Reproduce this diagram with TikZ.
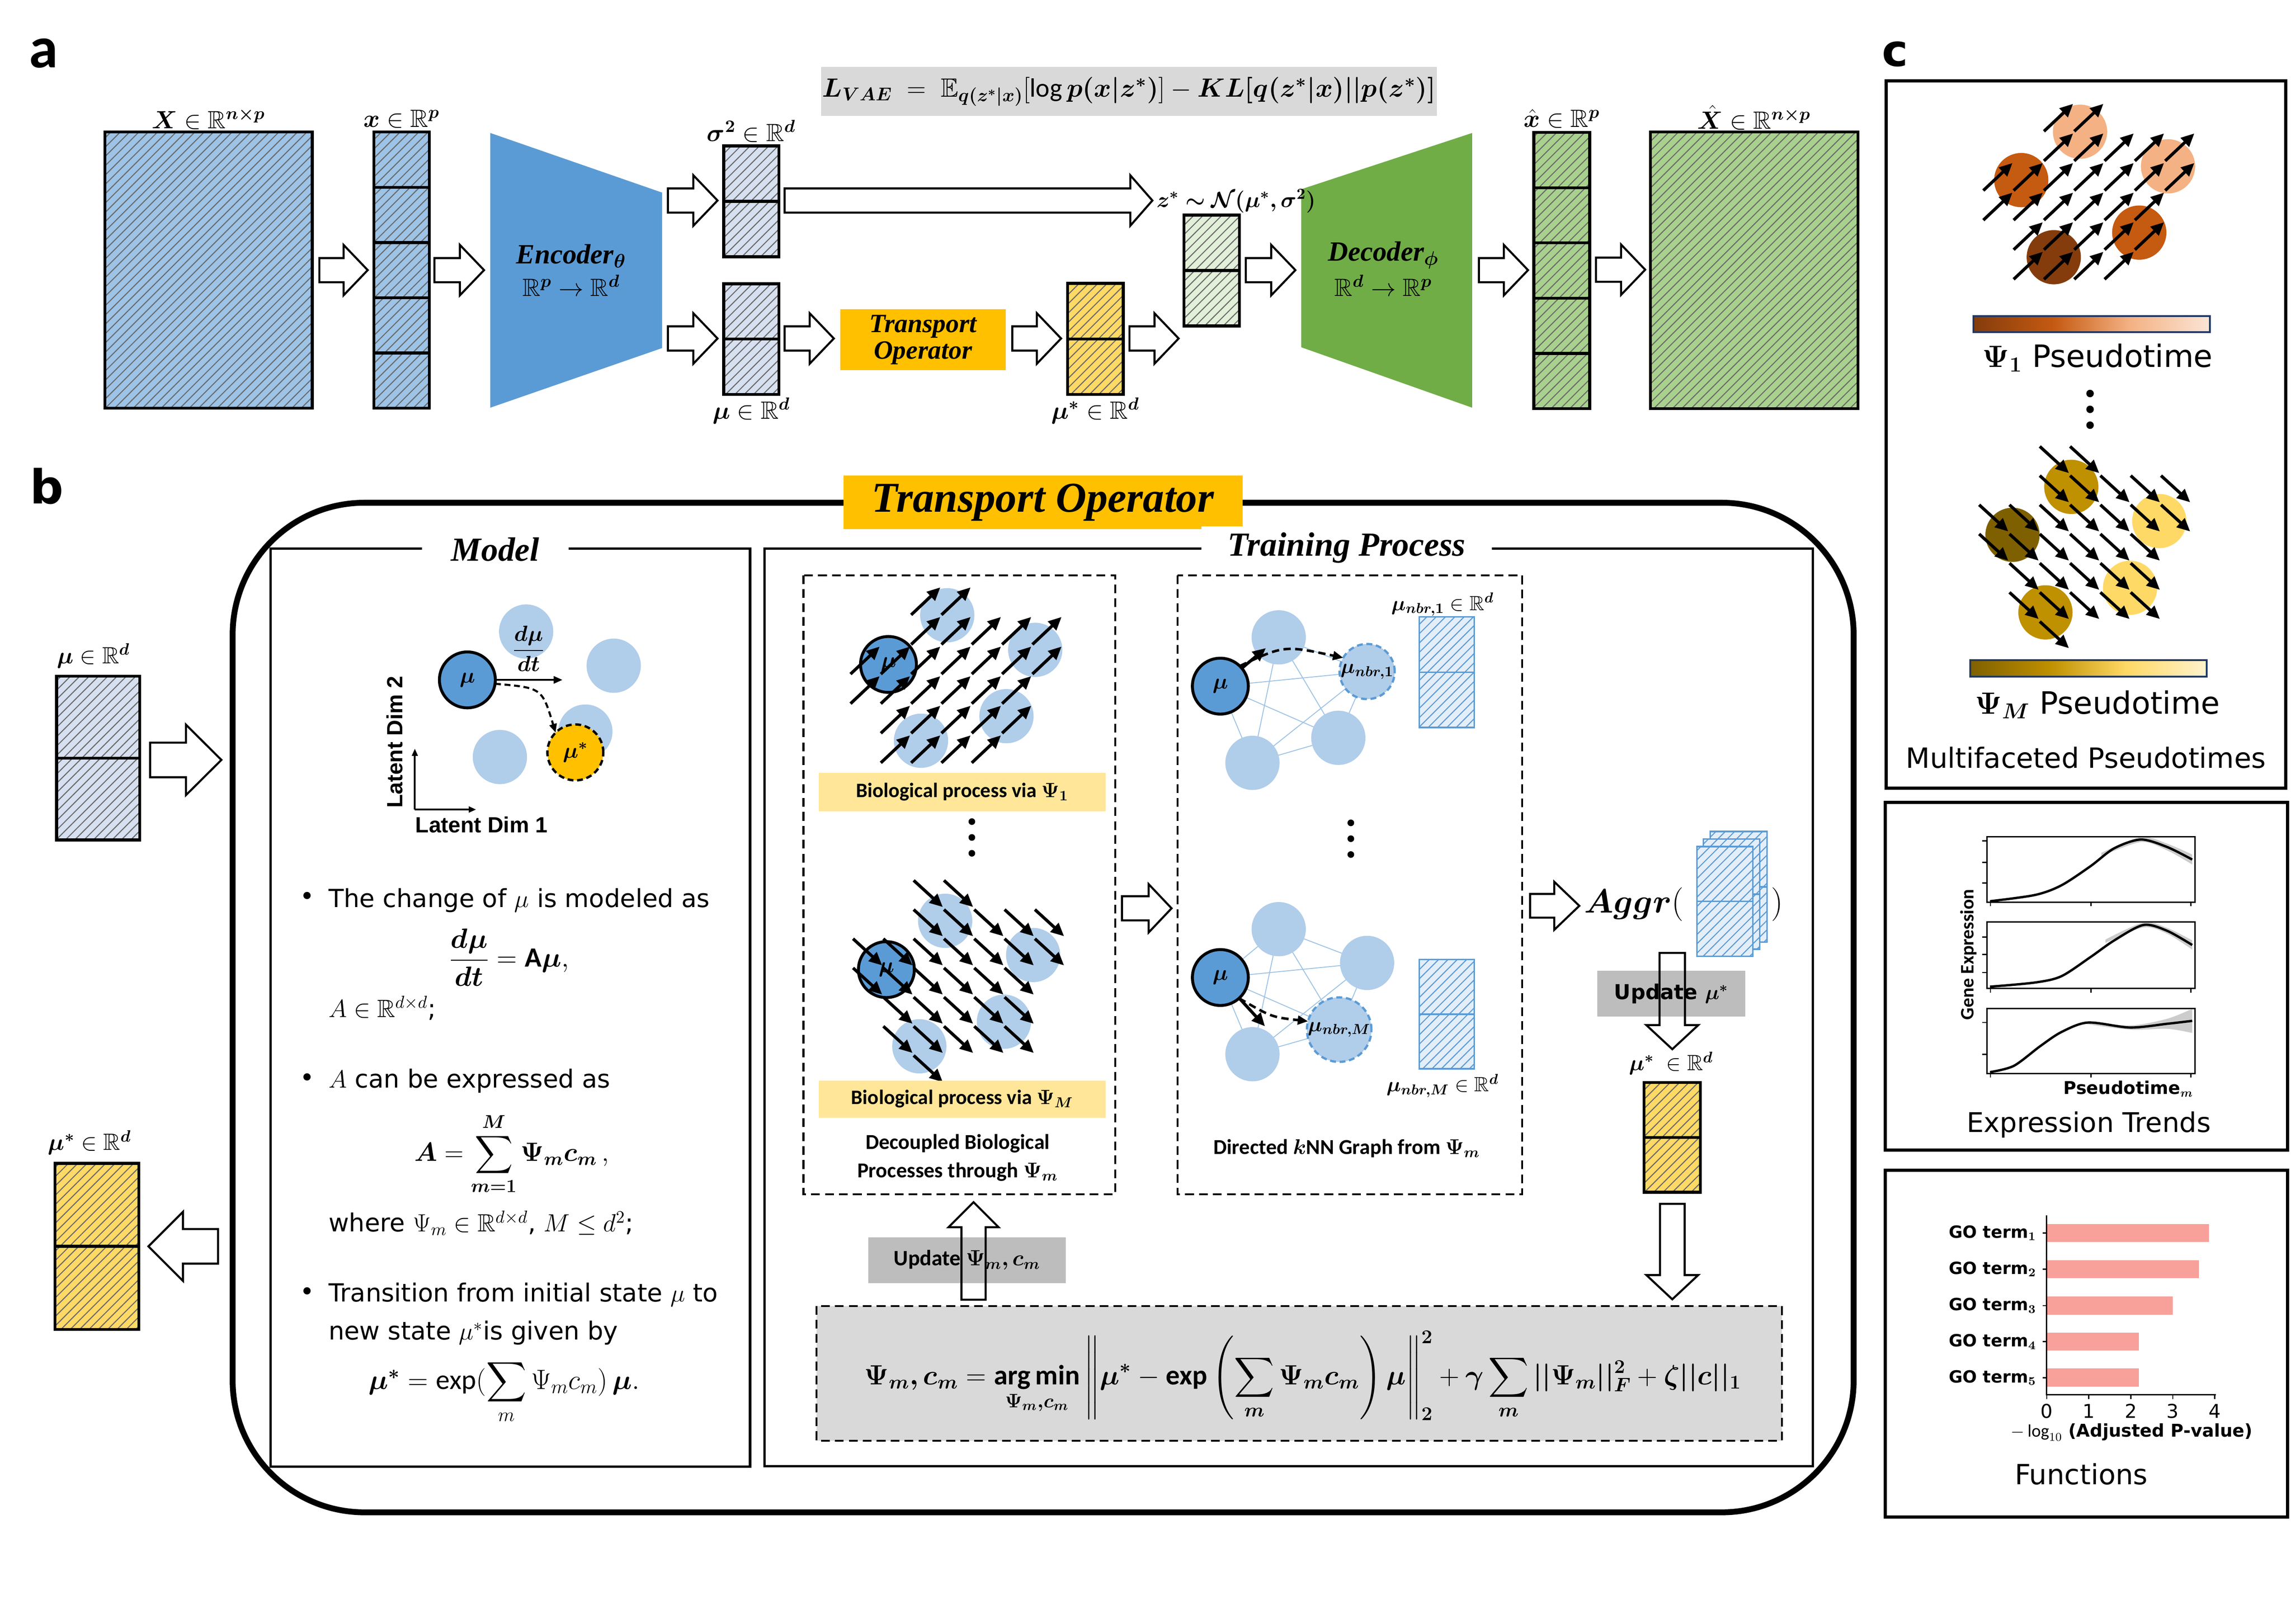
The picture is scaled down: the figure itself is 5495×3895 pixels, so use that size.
\documentclass[tikz,border=0pt]{standalone}
\usepackage{fix-cm}
\usepackage{amsmath,amssymb,bm}
\usepackage{fontspec}
\setmainfont{Carlito}
\newfontfamily\dvs{DejaVu Sans}
\newfontfamily\lsans{Liberation Sans}
\newfontfamily\lserif{Liberation Serif}
\usetikzlibrary{patterns.meta,arrows.meta,calc}
\newcommand\fsz[1]{\fontsize{#1}{#1}\selectfont}

\definecolor{matblue}{HTML}{9DC3E6}
\definecolor{vecblue}{HTML}{D6E0F0}
\definecolor{encblue}{HTML}{5B9BD5}
\definecolor{decgreen}{HTML}{70AD47}
\definecolor{matgreen}{HTML}{A9D18E}
\definecolor{zgreen}{HTML}{E2F0D9}
\definecolor{toyellow}{HTML}{FFC000}
\definecolor{muyellow}{HTML}{FFD966}
\definecolor{lblyellow}{HTML}{FFE699}
\definecolor{lgray}{HTML}{D9D9D9}
\definecolor{mgray}{HTML}{BDBDBD}
\definecolor{cellblue}{HTML}{B0CDEA}
\definecolor{edgeblue}{HTML}{9DC3E6}
\definecolor{nbrfill}{HTML}{E4EEF8}
\definecolor{peach}{HTML}{F4B183}
\definecolor{orng}{HTML}{C55A11}
\definecolor{brwn}{HTML}{843C0C}
\definecolor{lpeach}{HTML}{FBE5D6}
\definecolor{gold}{HTML}{BF9000}
\definecolor{dgold}{HTML}{7F6000}
\definecolor{lgold}{HTML}{FFD966}
\definecolor{cream}{HTML}{FFF2CC}
\definecolor{barred}{HTML}{F8A19A}
\definecolor{navy}{HTML}{203864}
\definecolor{hatchgray}{HTML}{6A6A6A}

\pgfdeclarehorizontalshading{psione}{100bp}{color(0bp)=(brwn); color(25bp)=(brwn); color(42bp)=(orng); color(58bp)=(peach); color(75bp)=(lpeach); color(100bp)=(lpeach)}
\pgfdeclarehorizontalshading{psim}{100bp}{color(0bp)=(dgold); color(25bp)=(dgold); color(42bp)=(gold); color(58bp)=(lgold); color(75bp)=(cream); color(100bp)=(cream)}

\tikzset{
  nd/.style={inner sep=0pt, outer sep=0pt},
  hatch/.style 2 args={preaction={fill=#1}, pattern={Lines[angle=45,distance=4.5pt,line width=0.7pt]}, pattern color=#2},
  matbox/.style={nd, draw=black, line width=2pt},
  nbrvec/.style={nd, draw=encblue, line width=1.1pt, hatch={nbrfill}{encblue}},
  blockarrow/.style={draw=black, fill=white, line width=1.4pt},
  blockarrowo/.style={draw=black, line width=1.4pt},
  pics/barrow/.style n args={4}{code={\path[blockarrow] (0,{-(#3)/2}) -- ({#1-#4},{-(#3)/2}) -- ({#1-#4},{-(#2)/2}) -- (#1,0) -- ({#1-#4},{(#2)/2}) -- ({#1-#4},{(#3)/2}) -- (0,{(#3)/2}) -- cycle;}},
  pics/barrowo/.style n args={4}{code={\path[blockarrowo] (0,{-(#3)/2}) -- ({#1-#4},{-(#3)/2}) -- ({#1-#4},{-(#2)/2}) -- (#1,0) -- ({#1-#4},{(#2)/2}) -- ({#1-#4},{(#3)/2}) -- (0,{(#3)/2}) -- cycle;}},
  fieldarrow/.style={line width=2.1pt, -{Triangle[length=9pt,width=8pt]}},
  dasharrow/.style={line width=1.7pt, dash pattern=on 5pt off 3pt, -{Triangle[length=7pt,width=6pt]}},
  cellc/.style={nd, circle, minimum size=1.30cm},
  mucirc/.style={nd, circle, minimum size=1.34cm, fill=encblue, draw=black, line width=2pt, font=\fsz{15}},
  gedge/.style={draw=edgeblue, line width=0.6pt},
  tk/.style={line width=0.8pt},
  bigbox/.style={draw=black, line width=1.6pt},
  dbox/.style={draw=black, line width=1.3pt, dash pattern=on 6pt off 3.5pt},
}

\newcommand\upfield[2]{%
  \foreach \r/\cs in {0/{1,2,3,4},1/{1,2,3,4,5},2/{0,1,2,3,4,5},3/{0,1,2,3,4,5,6},4/{2,3,4,5,6},5/{2,3}}{%
    \foreach \c in \cs {\draw[fieldarrow] ({#1+72.7*\c},{#2-71*\r}) -- ++(70,-66);}}}
\newcommand\downfield[2]{%
  \foreach \r/\cs in {0/{2,3},1/{2,3,4,5,6},2/{0,1,2,3,4,5,6},3/{0,1,2,3,4,5},4/{1,2,3,4,5},5/{1,2,3,4,5},6/{2}}{%
    \foreach \c in \cs {\draw[fieldarrow] ({#1+72.7*\c},{#2+70*\r}) -- ++(70,64);}}}

\begin{document}
\begin{tikzpicture}[x=0.01cm,y=-0.01cm]
\useasboundingbox (0,0) rectangle (5495,3895);
\fill[white] (0,0) rectangle (5495,3895);

% ================= panel a =================
\node[nd, font=\bfseries\fsz{40}] (la) at (105,128) {a};

\node[matbox, hatch={matblue}{hatchgray}, minimum width=4.97cm, minimum height=6.62cm] (X) at (500.5,648) {};
\node[nd, font=\fsz{17}] (Xl) at (500,285) {$\bm{X}\in\mathbb{R}^{\bm{n\times p}}$};

\node[matbox, hatch={matblue}{hatchgray}, minimum width=1.33cm, minimum height=6.62cm] (xv) at (963.5,648) {};
\foreach \k in {1,...,4} \draw[line width=2pt] ($(xv.north west)!\k/5!(xv.south west)$) -- ($(xv.north east)!\k/5!(xv.south east)$);
\node[nd, font=\fsz{17}] (xvl) at (963,285) {$\bm{x}\in\mathbb{R}^{\bm{p}}$};

\pic at (766,648) {barrow={116}{121}{58}{58}};
\pic at (1042,648) {barrow={119}{121}{58}{58}};

\fill[encblue] (1176,319) -- (1588,462) -- (1588,835) -- (1176,978) -- cycle;
\node[nd, font=\lserif\bfseries\itshape\fsz{19}] (enc) at (1370,614) {Encoder$_{\bm\theta}$};
\node[nd, font=\fsz{17}] (encm) at (1370,685) {$\mathbb{R}^{\bm p}\rightarrow\mathbb{R}^{\bm d}$};

\pic at (1602,481) {barrow={119}{121}{58}{58}};
\pic at (1602,812) {barrow={119}{121}{58}{58}};

\node[matbox, hatch={vecblue}{hatchgray}, minimum width=1.32cm, minimum height=2.66cm] (sig) at (1802,483) {};
\draw[line width=2pt] (sig.west) -- (sig.east);
\node[nd, font=\fsz{17}] (sigl) at (1802,315) {$\bm{\sigma^2}\in\mathbb{R}^{\bm d}$};
\node[matbox, hatch={vecblue}{hatchgray}, minimum width=1.32cm, minimum height=2.65cm] (mu) at (1802,813.5) {};
\draw[line width=2pt] (mu.west) -- (mu.east);
\node[nd, font=\fsz{17}] (mul) at (1802,985) {$\bm{\mu}\in\mathbb{R}^{\bm d}$};

\pic at (1882,481) {barrow={882}{121}{58}{53}};

\node[nd, fill=lgray, minimum width=14.76cm, minimum height=1.17cm, font=\fsz{18}] (lvae) at (2708,219.5)
  {$\bm{L_{VAE}} \;=\; \mathbb{E}_{\bm{q(z^*|x)}}[\log \bm{p(x|z^*)}] - \bm{KL[q(z^*|x)||p(z^*)]}$};

\pic at (1882,812) {barrow={118}{121}{58}{58}};
\node[nd, fill=toyellow, minimum width=3.96cm, minimum height=1.46cm, align=center, font=\lserif\bfseries\itshape\fsz{18}] (to) at (2214,815) {Transport\\Operator};
\pic at (2428,812) {barrow={117}{121}{58}{58}};

\node[matbox, hatch={muyellow}{hatchgray}, minimum width=1.33cm, minimum height=2.66cm] (mus) at (2627.5,813) {};
\draw[line width=2pt] (mus.west) -- (mus.east);
\node[nd, font=\fsz{17}] (musl) at (2627,985) {$\bm{\mu^*}\in\mathbb{R}^{\bm d}$};
\pic at (2709,812) {barrow={118}{121}{58}{58}};

\node[matbox, hatch={zgreen}{hatchgray}, minimum width=1.33cm, minimum height=2.66cm] (zs) at (2906.5,649) {};
\draw[line width=2pt] (zs.west) -- (zs.east);
\pic at (2988,648) {barrow={119}{121}{58}{58}};

\fill[decgreen] (3121,454) -- (3531,319) -- (3531,978) -- (3121,833) -- cycle;
\node[nd, font=\lserif\bfseries\itshape\fsz{19}] (dec) at (3318,612) {Decoder$_{\bm\phi}$};
\node[nd, font=\fsz{17}] (decm) at (3318,685) {$\mathbb{R}^{\bm d}\rightarrow\mathbb{R}^{\bm p}$};
\node[nd, anchor=west, font=\fsz{15}] (zsl) at (2774,482) {$\bm{z^*\sim\mathcal{N}(\mu^*,\sigma^2)}$};

\pic at (3547,648) {barrow={118}{121}{58}{58}};
\node[matbox, hatch={matgreen}{hatchgray}, minimum width=1.34cm, minimum height=6.62cm] (xh) at (3746,649) {};
\foreach \k in {1,...,4} \draw[line width=2pt] ($(xh.north west)!\k/5!(xh.south west)$) -- ($(xh.north east)!\k/5!(xh.south east)$);
\node[nd, font=\fsz{17}] (xhl) at (3746,285) {$\hat{\bm{x}}\in\mathbb{R}^{\bm p}$};
\pic at (3828,647) {barrow={118}{121}{58}{58}};
\node[matbox, hatch={matgreen}{hatchgray}, minimum width=4.97cm, minimum height=6.63cm] (Xh) at (4207.5,648.5) {};
\node[nd, font=\fsz{17}] (Xhl) at (4207,282) {$\hat{\bm{X}}\in\mathbb{R}^{\bm{n\times p}}$};

% ================= panel b =================
\node[nd, font=\dvs\bfseries\fsz{32}] (lb) at (112,1166) {b};

\node[matbox, hatch={vecblue}{hatchgray}, minimum width=1.99cm, minimum height=3.93cm] (bmu) at (235.5,1818.5) {};
\draw[line width=2pt] (bmu.west) -- (bmu.east);
\node[nd, font=\fsz{16}] (bmul) at (224,1573) {$\bm{\mu}\in\mathbb{R}^{\bm d}$};
\pic at (360,1823) {barrow={171}{169}{83}{85}};

\node[matbox, hatch={muyellow}{hatchgray}, minimum width=2.01cm, minimum height=3.98cm] (bmus) at (232.5,2990) {};
\draw[line width=2pt] (bmus.west) -- (bmus.east);
\node[nd, font=\fsz{16}] (bmusl) at (215,2741) {$\bm{\mu^*}\in\mathbb{R}^{\bm d}$};
\pic[rotate=180] at (523,2990) {barrow={167}{166}{83}{83}};

\draw[line width=4pt, rounded corners=90] (558,1206) rectangle (4446,3628);
\node[nd, fill=toyellow, minimum width=9.57cm, minimum height=1.28cm, font=\lserif\bfseries\itshape\fsz{29}] (tot) at (2501.5,1205) {Transport Operator};

% Model box
\draw[bigbox] (649,1316) rectangle (1799,3518);
\node[nd, fill=white, inner xsep=20pt, inner ysep=4pt, font=\lserif\bfseries\itshape\fsz{23}] (mt) at (1188,1318) {Model};

\node[cellc, fill=cellblue] (mc1) at (1262,1515) {};
\node[cellc, fill=cellblue] (mc2) at (1472,1597) {};
\node[cellc, fill=cellblue] (mc3) at (1404,1755) {};
\node[cellc, fill=cellblue] (mc4) at (1199,1816) {};
\node[nd, font=\fsz{15}] (dmdt) at (1268,1556) {$\dfrac{\bm{d\mu}}{\bm{dt}}$};
\node[nd, circle, minimum size=1.34cm, fill=toyellow, draw=black, line width=1.6pt, dash pattern=on 4pt off 2.5pt, font=\fsz{15}] (mst) at (1380,1805) {$\bm{\mu^*}$};
\node[mucirc] (mmu) at (1121,1631) {$\bm\mu$};
\coordinate (dmtend) at (1349,1631);
\draw[line width=1.2pt, -{Triangle[length=6pt,width=5pt]}] (mmu.east) -- (dmtend);
\draw[line width=1.4pt, dash pattern=on 4pt off 2.5pt, -{Triangle[length=6pt,width=5pt]}] (mmu.-8) .. controls (1300,1650) .. (mst.135);
\coordinate (ax0) at (995,1942);
\coordinate (axy) at (995,1796);
\coordinate (axx) at (1142,1942);
\draw[line width=1.2pt, -{Triangle[length=5pt,width=4pt]}] (ax0) -- (axy);
\draw[line width=1.2pt, -{Triangle[length=5pt,width=4pt]}] (ax0) -- (axx);
\node[nd, rotate=90, font=\lsans\bfseries\fsz{15}] (ld2) at (947,1780) {Latent Dim 2};
\node[nd, font=\lsans\bfseries\fsz{15}] (ld1) at (1155,1979) {Latent Dim 1};

\node[nd, font=\dvs\fsz{17}] (bu1) at (737,2156) {•};
\node[nd, anchor=west, font=\dvs\fsz{17}] (t1) at (788,2160) {The change of $\mu$ is modeled as};
\node[nd, font=\fsz{19}] (eq1) at (1221,2297) {$\dfrac{\bm{d\mu}}{\bm{dt}}=\mathbf{A}\bm{\mu},$};
\node[nd, anchor=west, font=\dvs\fsz{17}] (t1b) at (788,2418) {$A\in\mathbb{R}^{d\times d}$;};
\node[nd, font=\dvs\fsz{17}] (bu2) at (737,2591) {•};
\node[nd, anchor=west, font=\dvs\fsz{17}] (t2) at (788,2593) {$A$ can be expressed as};
\node[nd, font=\fsz{18}] (eq2) at (1227,2768) {$\bm{A} = \displaystyle\sum_{\bm{m=1}}^{\bm{M}}\bm{\Psi_m c_m}\,,$};
\node[nd, anchor=west, font=\dvs\fsz{17}] (t2b) at (788,2934) {where $\Psi_m\in\mathbb{R}^{d\times d}$, $M\le d^2$;};
\node[nd, font=\dvs\fsz{17}] (bu3) at (737,3104) {•};
\node[nd, anchor=west, font=\dvs\fsz{17}] (t3) at (788,3106) {Transition from initial state $\mu$ to};
\node[nd, anchor=west, font=\dvs\fsz{17}] (t3b) at (788,3198) {new state $\mu^*$is given by};
\node[nd, font=\fsz{19}] (eq3) at (1209,3339) {$\bm{\mu^*} = \exp(\displaystyle\sum_{m}\Psi_m c_m)\,\bm{\mu}.$};

% Training box
\draw[bigbox] (1834,1316) rectangle (4348,3517);
\node[nd, fill=white, inner xsep=18pt, inner ysep=4pt, font=\lserif\bfseries\itshape\fsz{23}] (tt) at (3230,1314) {Training Process};

\draw[dbox] (1927,1380) rectangle (2675,2865);
\draw[dbox] (2824,1380) rectangle (3651,2865);

% field 1
\node[cellc, fill=cellblue] (f1a) at (2272,1476) {};
\node[cellc, fill=cellblue] (f1b) at (2483,1559) {};
\node[cellc, fill=cellblue] (f1c) at (2414,1718) {};
\node[cellc, fill=cellblue] (f1d) at (2209,1777) {};
\node[mucirc] (f1m) at (2131,1594) {$\bm\mu$};
\upfield{2040}{1830}
\node[nd, fill=lblyellow, minimum width=6.88cm, minimum height=0.92cm, font=\bfseries\fsz{14}] (bp1) at (2308,1900) {Biological process via $\bm{\Psi_1}$};
\foreach \yy in {1971,2009,2047} \fill (2331,\yy) circle (8);

% field M
\node[cellc, fill=cellblue] (fMa) at (2267,2209) {};
\node[cellc, fill=cellblue] (fMb) at (2478,2291) {};
\node[cellc, fill=cellblue] (fMc) at (2408,2451) {};
\node[cellc, fill=cellblue] (fMd) at (2205,2510) {};
\node[mucirc] (fMm) at (2126,2326) {$\bm\mu$};
\downfield{2046}{2112}
\node[nd, fill=lblyellow, minimum width=6.88cm, minimum height=0.89cm, font=\bfseries\fsz{14}] (bpM) at (2308,2636.5) {Biological process via $\bm{\Psi_M}$};
\node[nd, font=\bfseries\fsz{14.5}] (dec1) at (2297,2743) {Decoupled Biological};
\node[nd, font=\bfseries\fsz{14.5}] (dec2) at (2297,2811) {Processes through $\bm{\Psi_m}$};

\pic at (2691,2179) {barrow={119}{116}{58}{55}};

% graph 1
\foreach \n/\x/\y in {a/3067/1529, b/3279/1611, c/3210/1770, d/3004/1830, m/2927/1646} \coordinate (g1\n) at (\x,\y);
\foreach \p/\q in {m/a,m/b,m/c,m/d,a/b,a/c,a/d,b/c,b/d,c/d} \draw[gedge] (g1\p) -- (g1\q);
\node[cellc, fill=cellblue] (n1a) at (g1a) {};
\node[cellc, fill=cellblue] (n1c) at (g1c) {};
\node[cellc, fill=cellblue] (n1d) at (g1d) {};
\node[cellc, fill=cellblue, draw=encblue, line width=1.5pt, dash pattern=on 4pt off 2.5pt, font=\fsz{14}] (n1b) at (g1b) {$\bm{\mu_{nbr,1}}$};
\node[mucirc] (n1m) at (g1m) {$\bm\mu$};
\draw[fieldarrow] (n1m) -- ($(g1m)!0.78!(g1a)$);
\draw[dasharrow] (n1m.46) .. controls (3080,1548) .. (n1b.150);
\node[nbrvec, minimum width=1.32cm, minimum height=2.65cm] (v1) at (3470,1612.5) {};
\draw[encblue, line width=1.1pt] (v1.west) -- (v1.east);
\node[nd, font=\fsz{14}] (v1l) at (3460,1450) {$\bm{\mu_{nbr,1}}\in\mathbb{R}^{\bm d}$};

\foreach \yy in {1974,2012,2050} \fill (3240,\yy) circle (8);

% graph M
\foreach \n/\x/\y in {a/3067/2229, b/3279/2310, c/3212/2470, d/3004/2529, m/2927/2345} \coordinate (gM\n) at (\x,\y);
\foreach \p/\q in {m/a,m/b,m/c,m/d,a/b,a/c,a/d,b/c,b/d,c/d} \draw[gedge] (gM\p) -- (gM\q);
\node[cellc, fill=cellblue] (nMa) at (gMa) {};
\node[cellc, fill=cellblue] (nMb) at (gMb) {};
\node[cellc, fill=cellblue] (nMd) at (gMd) {};
\node[cellc, fill=cellblue, draw=encblue, line width=1.5pt, dash pattern=on 4pt off 2.5pt, font=\fsz{14}] (nMc) at (gMc) {$\bm{\mu_{nbr,M}}$};
\node[mucirc] (nMm) at (gMm) {$\bm\mu$};
\coordinate (gMt) at (3034,2462);
\draw[fieldarrow] (nMm) -- (gMt);
\draw[dasharrow] (nMm.-48) .. controls (3050,2440) .. (nMc.165);
\node[nbrvec, minimum width=1.32cm, minimum height=2.62cm] (vM) at (3470,2433) {};
\draw[encblue, line width=1.1pt] (vM.west) -- (vM.east);
\node[nd, font=\fsz{14}] (vMl) at (3460,2605) {$\bm{\mu_{nbr,M}}\in\mathbb{R}^{\bm d}$};
\node[nd, font=\bfseries\fsz{14.5}] (knn) at (3230,2755) {Directed $\bm{k}$NN Graph from $\bm{\Psi_m}$};

% aggregation
\pic at (3670,2173) {barrow={118}{115}{57}{60}};
\node[nd, anchor=west, font=\fsz{23}] (aggr) at (3800,2170) {$\bm{Aggr}($};
\node[nbrvec, minimum width=1.36cm, minimum height=2.65cm] (s3) at (4170,2127.5) {};
\draw[encblue, line width=1.1pt] (s3.west) -- (s3.east);
\node[nbrvec, minimum width=1.35cm, minimum height=2.64cm] (s2) at (4153,2145) {};
\draw[encblue, line width=1.1pt] (s2.west) -- (s2.east);
\node[nbrvec, minimum width=1.34cm, minimum height=2.63cm] (s1) at (4137,2162.5) {};
\draw[encblue, line width=1.1pt] (s1.west) -- (s1.east);
\node[nd, font=\fsz{23}] (aggrc) at (4262,2170) {$)$};

\node[nd, fill=mgray, minimum width=3.55cm, minimum height=1.10cm, font=\dvs\bfseries\fsz{14}] (upm) at (4008.5,2384) {Update $\bm{\mu^*}$};
\pic[rotate=-90] at (4011,2286) {barrowo={231}{125}{61}{58}};
\node[nd, font=\fsz{15}] (tmsl) at (4008,2551) {$\bm{\mu^*}\;\in\mathbb{R}^{\bm d}$};
\node[matbox, hatch={muyellow}{hatchgray}, minimum width=1.35cm, minimum height=2.63cm] (tms) at (4010.5,2728.5) {};
\draw[line width=2pt] (tms.west) -- (tms.east);
\pic[rotate=-90] at (4011,2888) {barrow={229}{124}{59}{58}};

\node[nd, fill=lgray, minimum width=23.14cm, minimum height=3.23cm] (form) at (3116,3294.5) {};
\draw[dbox] (form.north west) rectangle (form.south east);
\node[nd, font=\fsz{19}] (formt) at (3125,3300) {$\displaystyle \bm{\Psi_m, c_m} = \operatorname*{\mathbf{arg\,min}}_{\bm{\Psi_m,c_m}} \left\| \bm{\mu^*} - \mathbf{exp}\left(\sum_{\bm m}\bm{\Psi_m c_m}\right)\bm{\mu} \right\|_{\bm 2}^{\bm 2} + \bm{\gamma}\sum_{\bm m}\bm{||\Psi_m||_F^2} + \bm{\zeta ||c||_1}$};

\node[nd, fill=mgray, minimum width=4.73cm, minimum height=1.10cm, font=\bfseries\fsz{15}] (upp) at (2319.5,3023) {Update $\bm{\Psi_m, c_m}$};
\pic[rotate=90] at (2335,3118) {barrowo={234}{120}{58}{60}};

% ================= panel c =================
\node[nd, font=\dvs\bfseries\fsz{30}] (lc) at (4545,130) {c};
\draw[line width=2.2pt] (4524,194) rectangle (5482,1891);

\node[cellc, fill=peach] (c1a) at (4989,316) {};
\node[cellc, fill=orng] (c1b) at (4848,432) {};
\node[cellc, fill=peach] (c1c) at (5200,399) {};
\node[cellc, fill=orng] (c1d) at (5131,558) {};
\node[cellc, fill=brwn] (c1e) at (4926,617) {};
\upfield{4757}{670}
\shade[shading=psione] (4733,758) rectangle (5300,797);
\draw[navy, line width=1.2pt] (4733,758) rectangle (5300,797);
\node[nd, font=\dvs\fsz{21}] (p1l) at (5031,858) {$\bm{\Psi_1}$ Pseudotime};
\foreach \yy in {944,982,1020} \fill (5013,\yy) circle (9);

\node[cellc, fill=gold] (cMa) at (4968,1168) {};
\node[cellc, fill=dgold] (cMb) at (4827,1283) {};
\node[cellc, fill=lgold] (cMc) at (5179,1250) {};
\node[cellc, fill=lgold] (cMd) at (5109,1410) {};
\node[cellc, fill=gold] (cMe) at (4906,1469) {};
\downfield{4747}{1071}
\shade[shading=psim] (4726,1584) rectangle (5293,1623);
\draw[navy, line width=1.2pt] (4726,1584) rectangle (5293,1623);
\node[nd, font=\dvs\fsz{21}] (pMl) at (5031,1690) {$\bm{\Psi_M}$ Pseudotime};
\node[nd, font=\dvs\fsz{19}] (mfp) at (5003,1818) {Multifaceted Pseudotimes};

% expression trends
\draw[line width=2.2pt] (4522,1925) rectangle (5487,2759);
\fill[gray!40] plot[smooth] coordinates {(5040,2046) (5135,2008) (5198,2024) (5258,2050)} -- plot[smooth] coordinates {(5258,2074) (5198,2040) (5135,2020) (5040,2054)} -- cycle;
\fill[gray!40] plot[smooth] coordinates {(5050,2254) (5141,2213) (5198,2226) (5258,2256)} -- plot[smooth] coordinates {(5258,2278) (5198,2240) (5141,2225) (5050,2262)} -- cycle;
\fill[gray!40] plot[smooth] coordinates {(5000,2450) (5109,2460) (5198,2444) (5258,2420)} -- plot[smooth] coordinates {(5258,2478) (5198,2468) (5109,2470) (5000,2456)} -- cycle;
\foreach \ya/\yb in {2007/2164, 2212/2371, 2419/2575} {
  \draw[line width=0.9pt] (4766,\ya) rectangle (5265,\yb);
  \foreach \xx in {4774,5015,5255} \draw[tk] (\xx,\yb) -- ++(0,10);
}
\foreach \yy in {2017,2069,2118,2248,2290,2333,2453,2529} \draw[tk] (4766,\yy) -- ++(-12,0);
\draw[line width=1.6pt] plot[smooth] coordinates {(4773,2162) (4881,2147) (4944,2124) (5014,2078) (5071,2035) (5135,2014) (5198,2032) (5258,2062)};
\draw[line width=1.6pt] plot[smooth] coordinates {(4773,2367) (4881,2357) (4944,2342) (5014,2296) (5071,2256) (5141,2219) (5198,2233) (5258,2267)};
\draw[line width=1.6pt] plot[smooth] coordinates {(4773,2572) (4830,2557) (4893,2510) (4944,2476) (5008,2453) (5109,2465) (5198,2456) (5258,2449)};
\node[nd, rotate=90, font=\bfseries\fsz{13}] (gexp) at (4722,2290) {Gene Expression};
\node[nd, font=\dvs\bfseries\fsz{12}] (pst) at (5105,2612) {Pseudotime$_{\bm m}$};
\node[nd, font=\dvs\fsz{18.5}] (ext) at (5010,2698) {Expression Trends};

% functions
\draw[line width=2.2pt] (4522,2807) rectangle (5487,3639);
\foreach \v/\ya/\yb/\k in {3.86/2937/2979/1, 3.62/3023/3066/2, 3.0/3110/3154/3, 2.19/3197/3240/4, 2.19/3283/3327/5} {
  \fill[barred] (4909,\ya) rectangle ({4909+100.8*\v},\yb);
  \draw[tk] (4909,{(\ya+\yb)/2}) -- ++(-10,0);
  \node[nd, anchor=east, font=\dvs\bfseries\fsz{11.5}] (go\k) at (4884,{(\ya+\yb)/2}) {GO term$_{\bm{\k}}$};
}
\draw[line width=0.9pt] (4909,2916) -- (4909,3346) -- (5315,3346);
\foreach \v in {0,...,4} {
  \draw[tk] ({4909+100.8*\v},3346) -- ++(0,10);
  \node[nd, font=\dvs\fsz{13}] (xt\v) at ({4909+100.8*\v},3385) {\v};
}
\node[nd, font=\dvs\bfseries\fsz{12}] (xlab) at (5113,3436) {$-\log_{10}$ (Adjusted P-value)};
\node[nd, font=\dvs\fsz{19}] (fun) at (4992,3536) {Functions};

\end{tikzpicture}
\end{document}
